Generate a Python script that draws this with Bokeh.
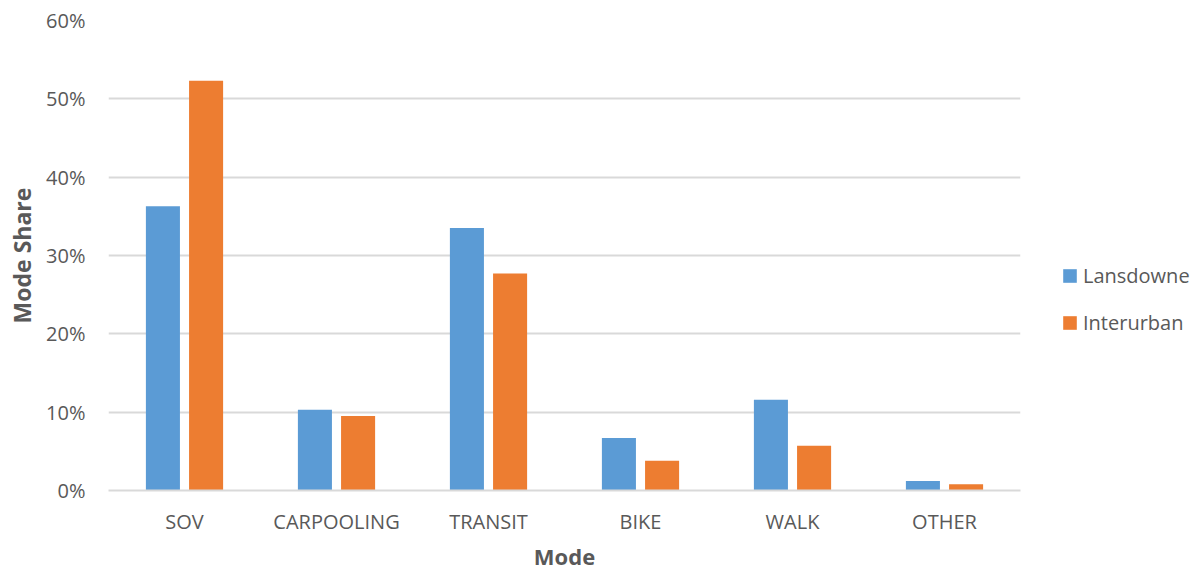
from bokeh.plotting import figure
from bokeh.models import ColumnDataSource, FactorRange, NumeralTickFormatter, Legend, LegendItem
from bokeh.transform import dodge
from bokeh.embed import file_html
from bokeh.resources import INLINE

# Commute mode share by site
modes = ["SOV", "CARPOOLING", "TRANSIT", "BIKE", "WALK", "OTHER"]
lansdowne = [0.363, 0.103, 0.335, 0.067, 0.116, 0.012]
interurban = [0.523, 0.095, 0.277, 0.038, 0.057, 0.008]
y_ticks = [0.0, 0.1, 0.2, 0.3, 0.4, 0.5, 0.6]

BLUE = "#5B9BD5"
ORANGE = "#ED7D31"
GRID = "#D9D9D9"
TEXT = "#595959"
FONT = "Open Sans"

source = ColumnDataSource(dict(mode=modes, lansdowne=lansdowne, interurban=interurban))

p = figure(
    x_range=FactorRange(*modes, range_padding=0),
    y_range=(0, 0.6),
    frame_width=912, frame_height=470,
    output_backend="svg", toolbar_location=None,
    min_border_left=108, min_border_right=177,
    min_border_top=20, min_border_bottom=79,
)
p.outline_line_color = None
p.background_fill_color = "white"
p.border_fill_color = "white"

r1 = p.vbar(x=dodge("mode", -0.142, range=p.x_range), top="lansdowne", width=0.224,
            source=source, fill_color=BLUE, line_color=None)
r2 = p.vbar(x=dodge("mode", 0.142, range=p.x_range), top="interurban", width=0.224,
            source=source, fill_color=ORANGE, line_color=None)

# y axis
p.yaxis.ticker = y_ticks
p.yaxis.formatter = NumeralTickFormatter(format="0%")
p.yaxis.axis_line_color = None
p.yaxis.major_tick_line_color = None
p.yaxis.minor_tick_line_color = None
p.yaxis.major_label_text_font = FONT
p.yaxis.major_label_text_font_size = "20px"
p.yaxis.major_label_text_color = TEXT
p.yaxis.major_label_standoff = 17
p.yaxis.axis_label = "Mode Share"
p.yaxis.axis_label_text_font = FONT
p.yaxis.axis_label_text_font_size = "23px"
p.yaxis.axis_label_text_font_style = "bold"
p.yaxis.axis_label_text_color = TEXT
p.yaxis.axis_label_standoff = 5

# x axis
p.xaxis.axis_line_color = GRID
p.xaxis.axis_line_width = 2
p.xaxis.major_tick_line_color = None
p.xaxis.minor_tick_line_color = None
p.xaxis.major_label_text_font = FONT
p.xaxis.major_label_text_font_size = "20px"
p.xaxis.major_label_text_color = TEXT
p.xaxis.major_label_standoff = 11
p.xaxis.axis_label = "Mode"
p.xaxis.axis_label_text_font = FONT
p.xaxis.axis_label_text_font_size = "22px"
p.xaxis.axis_label_text_font_style = "bold"
p.xaxis.axis_label_text_color = TEXT
p.xaxis.axis_label_standoff = 3

p.xgrid.grid_line_color = None
p.ygrid.grid_line_color = GRID
p.ygrid.grid_line_width = 2

legend = Legend(
    items=[LegendItem(label="Lansdowne", renderers=[r1]),
           LegendItem(label="Interurban", renderers=[r2])],
    location=(41, 154),
    orientation="vertical",
    border_line_color=None,
    background_fill_alpha=0,
    padding=0, margin=0,
    glyph_width=17, glyph_height=17,
    label_standoff=5,
    spacing=20,
    label_text_font=FONT,
    label_text_font_size="20px",
    label_text_color=TEXT,
)
p.add_layout(legend, "right")

open("out.html", "w").write(file_html(p, INLINE))
